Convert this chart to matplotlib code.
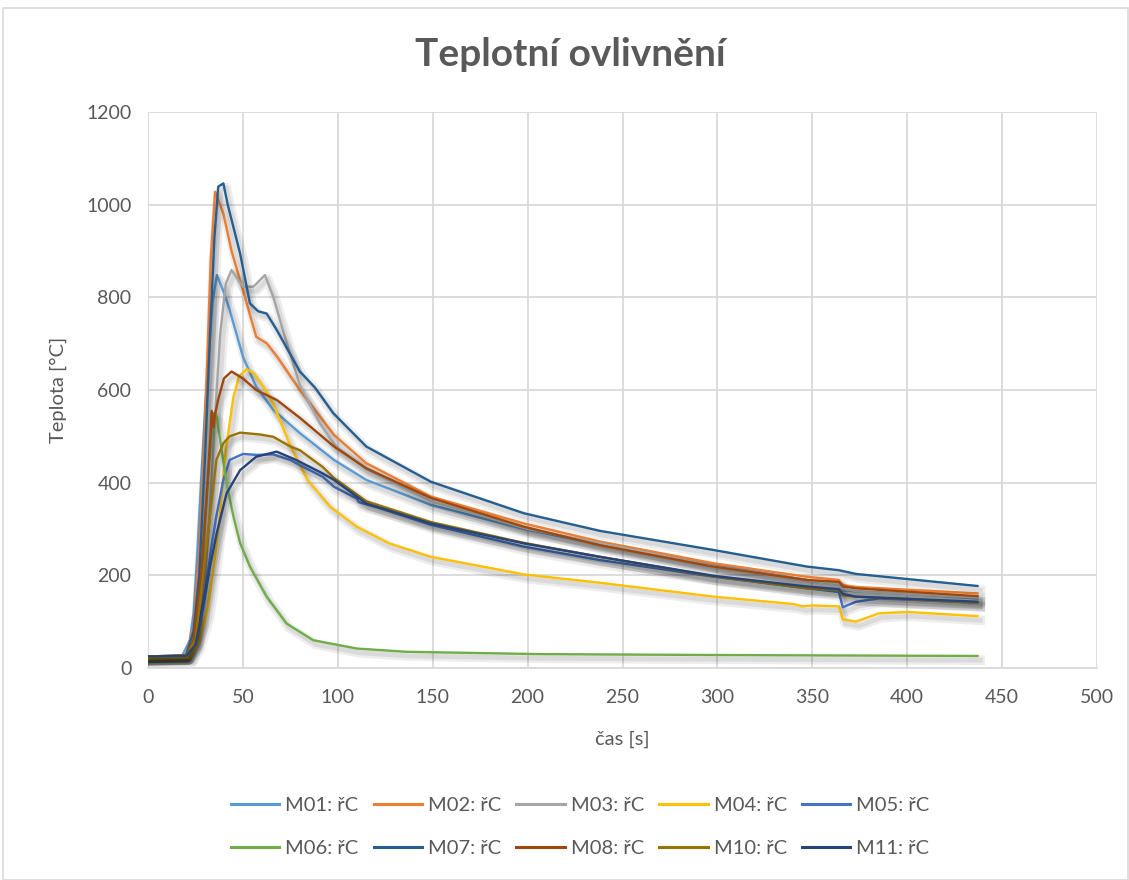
import matplotlib
matplotlib.use("Agg")
import matplotlib.pyplot as plt
import matplotlib.patheffects as pe
from matplotlib.lines import Line2D
from matplotlib.patches import Rectangle

# ============================================================
# DATA
# ============================================================

TITLE = "Teplotní ovlivnění"
X_LABEL = "čas [s]"
Y_LABEL = "Teplota [°C]"

X_TICKS = [0, 50, 100, 150, 200, 250, 300, 350, 400, 450, 500]
Y_TICKS = [0, 200, 400, 600, 800, 1000, 1200]

m01_t = [0, 18, 22, 24, 26, 28, 31, 34, 36.3, 40, 43, 50, 57, 66, 80, 98, 115, 149, 200, 250, 300, 350, 364, 366, 375, 400, 437]
m01_T = [24, 26, 60, 118, 250, 406, 621, 790, 848, 810, 773, 672, 607, 557, 507, 449, 406, 352, 298, 258, 222, 188, 182, 168, 165, 160, 150]

m02_t = [0, 20, 24, 27, 30, 33, 35.3, 37, 39.7, 44, 48.5, 57, 62.5, 68, 80, 98, 115, 149, 198, 238, 298, 347, 364, 366, 373, 437]
m02_T = [25, 27, 90, 250, 520, 880, 1028, 1010, 981, 900, 837, 715, 701, 672, 600, 503, 442, 370, 312, 273, 226, 197, 190, 179, 175, 161]

m03_t = [0, 22, 28, 32, 35, 38, 41, 44, 50, 55.5, 61.6, 66, 71, 80, 90.6, 99, 115, 149, 200, 250, 300, 350, 364, 366, 375, 437]
m03_T = [22, 24, 100, 300, 520, 720, 830, 859, 823, 823, 848, 801, 730, 610, 528, 478, 430, 360, 300, 260, 218, 188, 182, 170, 165, 152]

m04_t = [0, 22, 26, 31, 35, 38, 41, 45, 48, 52, 56, 62, 66, 70, 75, 84, 96, 110, 127, 149, 198, 238, 298, 340, 345, 350, 364, 366, 373, 385, 400, 437]
m04_T = [20, 22, 50, 118, 230, 334, 470, 585, 630, 645, 635, 600, 570, 530, 480, 406, 348, 305, 269, 240, 202, 184, 154, 138, 133, 135, 133, 105, 100, 118, 121, 112]

m05_t = [0, 20, 25, 30, 33, 36, 39.7, 43, 50, 57, 66, 75, 80, 92, 98, 108, 110, 111, 122, 149, 198, 238, 298, 347, 364, 366, 373, 385, 437]
m05_T = [25, 26, 60, 160, 250, 327, 406, 449, 462, 460, 461, 449, 438, 413, 391, 370, 366, 358, 345, 309, 262, 233, 197, 172, 164, 131, 143, 150, 141]

m06_t = [0, 20, 25, 29, 32, 34.5, 36.2, 38.8, 41.4, 45, 48.5, 53.7, 62.5, 73, 87, 110, 136, 206, 300, 437]
m06_T = [25, 26, 80, 250, 430, 550, 542, 470, 399, 327, 270, 219, 154, 96, 60, 42, 35, 30, 28, 26]

m07_t = [0, 20, 24, 27, 30, 33, 35, 37, 39.7, 42, 48.5, 53.7, 58, 62.5, 67.8, 80, 88, 97.6, 115, 149, 198, 238, 297.5, 347, 364, 373, 437]
m07_T = [25, 27, 80, 200, 450, 750, 930, 1039, 1046, 1000, 895, 787, 770, 765, 730, 640, 605, 550, 478, 402, 334, 296, 255, 219, 211, 203, 177]

m08_t = [0, 20, 24, 28, 31, 33, 33.5, 34.5, 35, 37, 40, 44, 50, 57, 68, 80, 98, 115, 149, 198, 238, 297.5, 347, 364, 366, 373, 437]
m08_T = [25, 27, 60, 200, 380, 510, 555, 520, 540, 580, 625, 640, 625, 600, 578, 540, 478, 431, 367, 305, 265, 219, 190, 186, 176, 172, 155]

m10_t = [0, 20, 25, 29, 32.7, 36, 39.7, 43, 48.5, 59, 66, 75, 80, 92, 98, 115, 149, 198, 238, 298, 347, 364, 366, 373, 437]
m10_T = [25, 26, 60, 200, 330, 449, 485, 500, 508, 504, 499, 478, 470, 434, 410, 360, 315, 270, 240, 198, 172, 168, 157, 154, 141]

m11_t = [0, 20, 25, 29, 32.7, 36.2, 41.4, 48.5, 57, 67.8, 78, 92, 98, 115, 149, 198, 238, 298, 347, 364, 366, 373, 437]
m11_T = [25, 26, 50, 130, 219, 291, 377, 427, 456, 467, 449, 420, 406, 355, 312, 269, 240, 199, 176, 170, 160, 154, 143]

SERIES = [
    ("M01: řC", m01_t, m01_T, "#5B9BD5"),
    ("M02: řC", m02_t, m02_T, "#ED7D31"),
    ("M03: řC", m03_t, m03_T, "#A5A5A5"),
    ("M04: řC", m04_t, m04_T, "#FFC000"),
    ("M05: řC", m05_t, m05_T, "#4472C4"),
    ("M06: řC", m06_t, m06_T, "#70AD47"),
    ("M07: řC", m07_t, m07_T, "#255E91"),
    ("M08: řC", m08_t, m08_T, "#9E480E"),
    ("M10: řC", m10_t, m10_T, "#997300"),
    ("M11: řC", m11_t, m11_T, "#264478"),
]

TEXT_COLOR = "#595959"
GRID_COLOR = "#D9D9D9"

plt.rcParams["font.family"] = ["Lato", "DejaVu Sans"]

fig = plt.figure(figsize=(11.29, 8.80), dpi=100)
ax = fig.add_axes([0.1311, 0.2409, 0.8406, 0.6318])

# Excel-like soft shadow under every line
shadow = [pe.SimpleLineShadow(offset=(2, -3), shadow_color="black", alpha=0.07, linewidth=7),
          pe.SimpleLineShadow(offset=(2, -3), shadow_color="black", alpha=0.08, linewidth=3.5),
          pe.Normal()]

handles = []
for label, t, T, color in SERIES:
    ax.plot(t, T, color=color, lw=1.7, path_effects=shadow, solid_joinstyle="round")
    handles.append(Line2D([], [], color=color, lw=2.2, label=label))

ax.set_xlim(0, 500)
ax.set_ylim(0, 1200)
ax.set_xticks(X_TICKS)
ax.set_yticks(Y_TICKS)
ax.tick_params(length=0, labelsize=14, colors=TEXT_COLOR)
ax.tick_params(axis="x", pad=15)
ax.tick_params(axis="y", pad=12)
ax.grid(True, color=GRID_COLOR, lw=1.3)
ax.set_axisbelow(True)
for side in ["top", "right", "left"]:
    ax.spines[side].set_visible(False)
ax.spines["bottom"].set_color(GRID_COLOR)
ax.spines["bottom"].set_linewidth(1.3)

ax.set_xlabel(X_LABEL, fontsize=14.5, color=TEXT_COLOR, labelpad=18)
ax.set_ylabel(Y_LABEL, fontsize=14.5, color=TEXT_COLOR, labelpad=14)

fig.text(0.505, 0.9375, TITLE, ha="center", va="center", fontsize=28, fontweight="bold", color=TEXT_COLOR)

# row-major order for a 2 x 5 legend (matplotlib fills column-wise)
order = [0, 5, 1, 6, 2, 7, 3, 8, 4, 9]
leg = fig.legend([handles[i] for i in order], [handles[i].get_label() for i in order],
                 loc="center", bbox_to_anchor=(0.514, 0.060), ncol=5, frameon=False,
                 fontsize=14.5, handlelength=2.4, handletextpad=0.3, columnspacing=0.75,
                 labelspacing=1.3)
for txt in leg.get_texts():
    txt.set_color(TEXT_COLOR)

# light chart border
fig.patches.append(Rectangle((0.003, 0.0), 0.996, 0.991, transform=fig.transFigure,
                             fill=False, edgecolor=GRID_COLOR, lw=1.2))

fig.savefig("out.png", dpi=100)
